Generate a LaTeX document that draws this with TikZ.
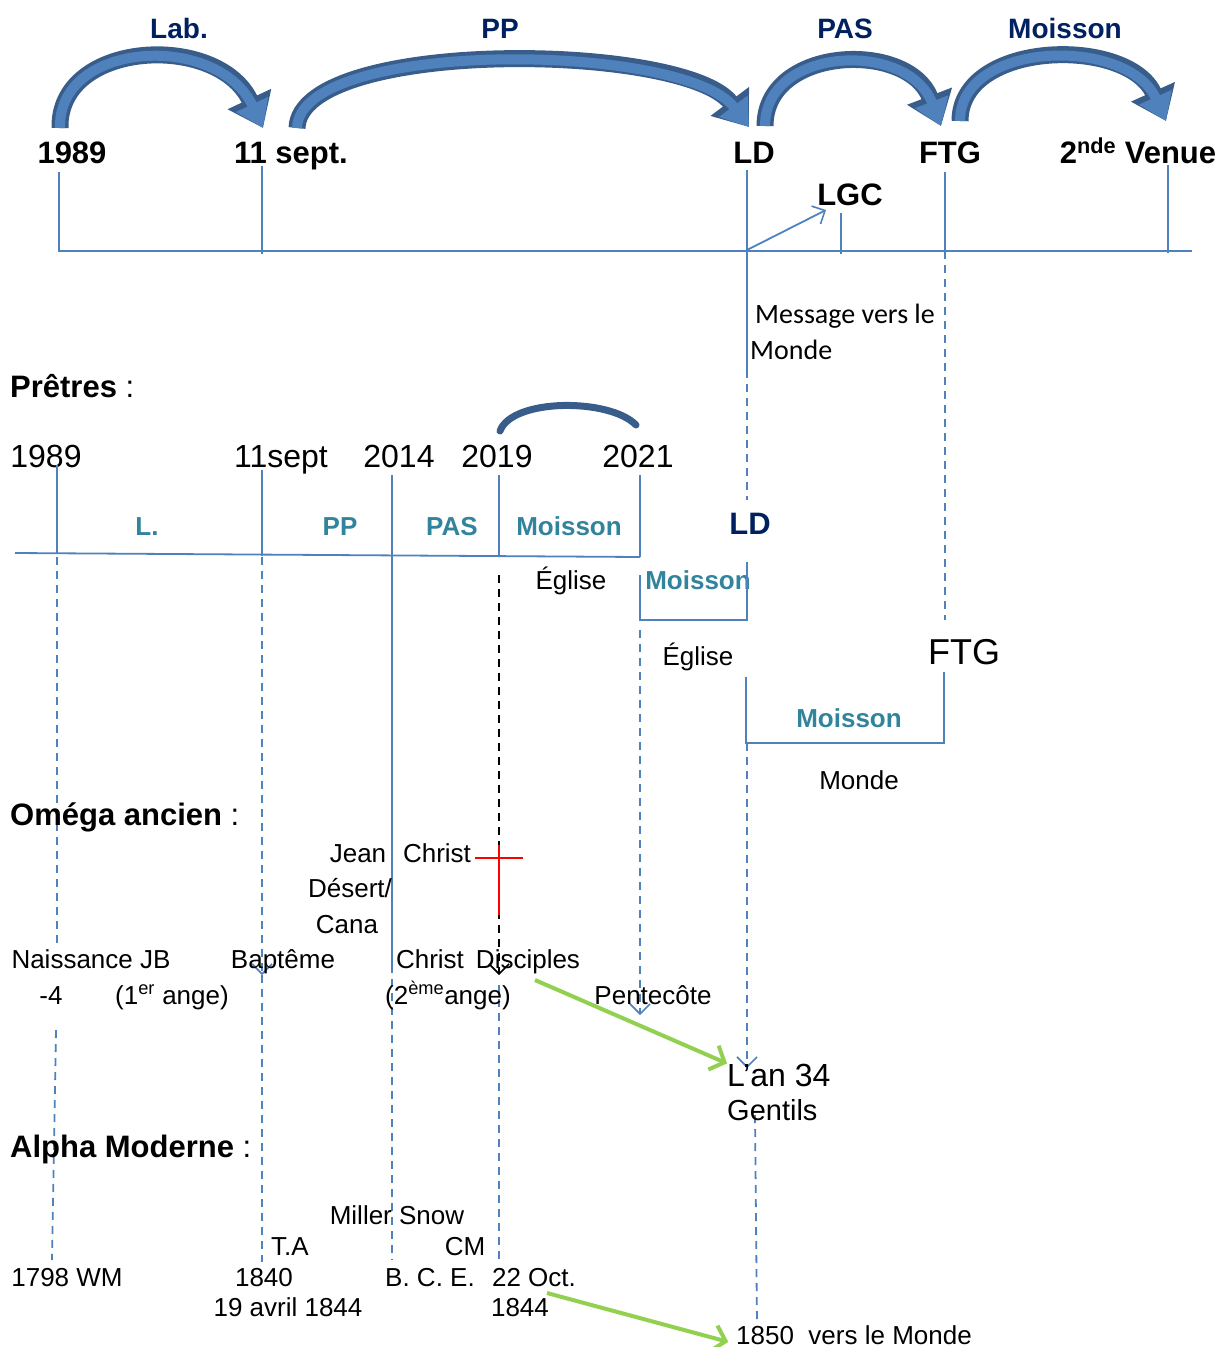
\documentclass[tikz,border=0pt]{standalone}
\usepackage{fontspec}
\setmainfont{Liberation Sans}
\newfontfamily\calib{Carlito}
\usetikzlibrary{arrows.meta}

\definecolor{navy}{RGB}{0,32,96}
\definecolor{tealtxt}{RGB}{49,132,155}
\definecolor{lineblue}{RGB}{79,129,189}
\definecolor{arcdark}{RGB}{56,93,138}
\definecolor{arclight}{RGB}{79,129,189}
\definecolor{grn}{RGB}{146,208,80}

\tikzset{
 hd/.style={anchor=base west, font=\fontsize{31}{36}\selectfont\bfseries},
 big/.style={anchor=base, font=\fontsize{31}{36}\selectfont\bfseries},
 arclbl/.style={anchor=base, navy, font=\fontsize{28}{32}\selectfont\bfseries},
 yr/.style={anchor=base, font=\fontsize{32}{36}\selectfont},
 per/.style={anchor=base, tealtxt, font=\fontsize{26}{30}\selectfont\bfseries},
 txt/.style={anchor=base, font=\fontsize{26}{30}\selectfont},
 tl/.style={lineblue, line width=1.8pt},
 dsh/.style={tl, dash pattern=on 8pt off 6pt},
 vtip/.style={-{Straight Barb[length=10pt,width=20pt,line width=1.6pt]}},
 arcout/.style={arcdark, line width=17pt, -{Triangle[length=32pt,width=46pt]}},
 arcin/.style={arclight, line width=10pt, -{Triangle[length=26pt,width=34pt]}},
 grarrow/.style={grn, line width=4pt, -{Straight Barb[length=12pt,width=26pt,line width=4pt]}},
}

\begin{document}
\begin{tikzpicture}[x=1pt,y=-1pt,every node/.style={inner sep=0pt}]
 \useasboundingbox (0,0) rectangle (1228,1347);

 % big arcs on top
 \draw (179,38) node[arclbl](lab){Lab.};
 \draw (500,38) node[arclbl](pp){PP};
 \draw (845,38) node[arclbl](pas){PAS};
 \draw (1065,38) node[arclbl](moi){Moisson};
 \foreach \s in {arcout,arcin} {
 \draw[\s] (60,128) .. controls (58,40) and (218,32) .. (263,128);
 \draw[\s] (297,128) .. controls (300,38) and (685,42) .. (749,127);
 \draw[\s] (765,126) .. controls (765,46) and (908,40) .. (941,126);
 \draw[\s] (960,121) .. controls (960,40) and (1128,36) .. (1166,121);
 }

 % top timeline
 \draw (72,163) node[big](t1989){1989};
 \draw (291,163) node[big](tsept){11 sept.};
 \draw (754,163) node[big](tld){LD};
 \draw (950,163) node[big](tftg){FTG};
 \draw (1138,163) node[big](tvenue){2\textsuperscript{nde} Venue};
 \draw (850,205) node[big](lgc){LGC};
 \draw[tl] (59,172) -- (59,251) -- (1192,251);
 \draw[tl] (262,166) -- (262,254);
 \draw[tl] (747,170) -- (747,370);
 \draw[dsh] (747,370) -- (747,500);
 \draw[tl] (945,172) -- (945,251);
 \draw[dsh] (945,251) -- (945,620);
 \draw[tl] (1168,165) -- (1168,253);
 \draw[tl] (841,213) -- (841,254);
 \coordinate (ldfoot) at (747,250);
 \coordinate (lgcpt) at (826,210);
 \draw[tl,vtip] (ldfoot) -- (lgcpt);
 \draw (755,323) node[anchor=base west, font=\calib\fontsize{28}{34}\selectfont](msg1){Message vers le};
 \draw (750,359) node[anchor=base west, font=\calib\fontsize{28}{34}\selectfont](msg2){Monde};

 % Pretres
 \draw (10,397) node[hd](pretres){Prêtres \mdseries:};
 \draw (46,467) node[yr](p1989){1989};
 \draw (281,467) node[yr](psept){11sept};
 \draw (399,467) node[yr](p2014){2014};
 \draw (497,467) node[yr](p2019){2019};
 \draw (638,467) node[yr](p2021){2021};
 \draw[arcdark, line width=7pt, line cap=round] (500,431) .. controls (512,398) and (610,398) .. (636,425);
 \draw (147,535) node[per](pl){L.};
 \draw (340,535) node[per](ppp){PP};
 \draw (452,535) node[per](ppas){PAS};
 \draw (569,535) node[per](pmoi){Moisson};
 \draw (750,534) node[big, navy](pld){LD};
 \draw[tl] (15,553) -- (640,557);
 \draw[tl] (57,465) -- (57,554);
 \draw[tl] (262,470) -- (262,556);
 \draw[tl] (392,475) -- (392,965);
 \draw[tl] (499,475) -- (499,556);
 \draw[tl] (640,475) -- (640,557);
 \draw (571,589) node[txt](eg1){Église};
 \draw (698,589) node[per](moi2){Moisson};
 \draw[tl] (640,575) -- (640,620) -- (747,620) -- (747,562);
 \draw (698,665) node[txt](eg2){Église};
 \draw (964,664) node[anchor=base, font=\fontsize{36}{40}\selectfont](ftg2){FTG};
 \draw[tl] (746,677) -- (746,743) -- (944,743) -- (944,672);
 \draw (849,727) node[per](moi3){Moisson};
 \draw (859,789) node[txt](monde){Monde};

 % the dashed lines going down
 \draw[dsh] (57,557) -- (57,945);
 \draw[dsh] (56,1030) -- (52,1260);
 \draw[dsh,vtip] (262,557) -- (262,975);
 \draw[dsh] (262,975) -- (262,1262);
 \draw[dsh] (392,965) -- (392,1260);
 \draw[black, line width=1.6pt, dash pattern=on 8pt off 6pt, vtip] (499,575) -- (499,975);
 \draw[dsh] (499,985) -- (499,1262);
 \draw[dsh,vtip] (640,630) -- (640,1015);
 \draw[dsh,vtip] (747,743) -- (747,1068);
 \draw[dsh] (755,1115) -- (757,1325);

 % Omega ancien
 \draw (10,825) node[hd](omega){Oméga ancien \mdseries:};
 \draw (358,862) node[txt](jean){Jean};
 \draw (437,862) node[txt](christ1){Christ};
 \draw (350,897) node[txt](desert){Désert/};
 \draw (347,933) node[txt](cana){Cana};
 \draw[red, line width=2pt] (499,845) -- (499,915);
 \draw[red, line width=2pt] (475,858) -- (523,858);
 \draw (91,968) node[txt](naiss){Naissance JB};
 \draw (283,968) node[txt](bapt){Baptême};
 \draw (430,968) node[txt](christ2){Christ};
 \draw (528,968) node[txt](disc){Disciples};
 \draw (51,1004) node[txt](moins4){-4};
 \draw (172,1004) node[txt](ange1){(1\textsuperscript{er} ange)};
 \draw (448,1004) node[txt](ange2){(2\textsuperscript{ème}ange)};
 \draw (653,1004) node[txt](pent){Pentecôte};
 \draw (727,1086) node[anchor=base west, font=\fontsize{32}{36}\selectfont](lan){L'an 34};
 \draw (727,1120) node[anchor=base west, font=\fontsize{29}{34}\selectfont](gent){Gentils};
 \coordinate (discfoot) at (535,980);
 \draw[grarrow] (discfoot) -- (lan.north west);

 % Alpha moderne
 \draw (10,1157) node[hd](alpha){Alpha Moderne \mdseries:};
 \draw (397,1224) node[txt](miller){Miller Snow};
 \draw (290,1255) node[txt](ta){T.A};
 \draw (465,1255) node[txt](cm){CM};
 \draw (67,1286) node[txt](wm){1798 WM};
 \draw (264,1286) node[txt](a1840){1840};
 \draw (430,1286) node[txt](bce){B. C. E.};
 \draw (534,1286) node[txt](oct){22 Oct.};
 \draw (288,1316) node[txt](avril){19 avril 1844};
 \draw (520,1316) node[txt](a1844){1844};
 \draw (736,1344) node[anchor=base west, font=\fontsize{26}{30}\selectfont](m1850){1850\ \ vers le Monde};
 \coordinate (octfoot) at (547,1293);
 \draw[grarrow, shorten >=8pt] (octfoot) -- (m1850.base west);

\end{tikzpicture}
\end{document}
